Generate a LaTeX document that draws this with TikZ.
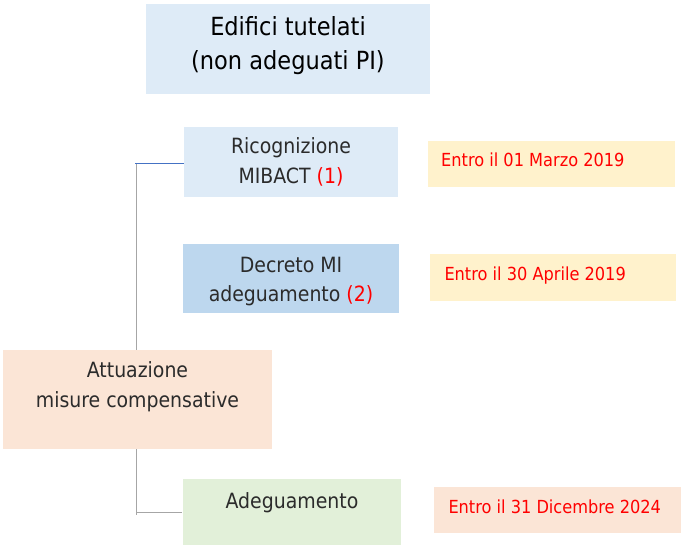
\documentclass[tikz,border=0pt]{standalone}
\usepackage{fontspec}
\setmainfont{DejaVu Sans Condensed}
\definecolor{bluelt}{HTML}{DEEBF7}
\definecolor{bluemd}{HTML}{BDD7EE}
\definecolor{peach}{HTML}{FBE5D6}
\definecolor{greenlt}{HTML}{E2F0D9}
\definecolor{yellowlt}{HTML}{FFF2CC}
\definecolor{txt}{HTML}{2B2B2B}
\definecolor{linegray}{HTML}{A6A6A6}
\definecolor{lineblue}{HTML}{4472C4}
\definecolor{redtxt}{HTML}{FF0000}
\tikzset{
  boxa/.style={inner sep=0pt, align=center, text=txt, font=\fontsize{21}{29.5}\selectfont},
  datebox/.style={inner sep=0pt, anchor=north west},
  datetxt/.style={inner sep=0pt, anchor=base west, text=redtxt, font=\fontsize{18}{21}\selectfont},
  conn/.style={draw=linegray, line width=1.2pt},
}
\begin{document}
\begin{tikzpicture}[x=1pt,y=-1pt]
\useasboundingbox[fill=white] (0,0) rectangle (685,551);
% title
\node[boxa, fill=bluelt, minimum width=284pt, minimum height=90pt] (title) at (288,49) {};
\node[boxa, text=black, font=\fontsize{25}{34}\selectfont] (titletxt) at (288,46)
  {Edifici tutelati\\(non adeguati PI)};
% main boxes
\node[boxa, fill=bluelt, minimum width=214pt, minimum height=70pt] (rico) at (291,162)
  {Ricognizione\\MIBACT \textcolor{redtxt}{(1)}};
\node[boxa, fill=bluemd, minimum width=216pt, minimum height=69pt] (decr) at (291,278.5) {};
\node[boxa] (decrtxt) at (291,281.5) {Decreto MI\\adeguamento \textcolor{redtxt}{(2)}};
\node[boxa, fill=peach, minimum width=269pt, minimum height=99pt] (attu) at (137.5,399.5) {};
\node[boxa] (attutxt) at (137.5,386.5) {Attuazione\\misure compensative};
\node[boxa, fill=greenlt, minimum width=218pt, minimum height=66pt] (adeg) at (292,512) {};
\node[boxa, anchor=base] (adegtxt) at (292,508) {Adeguamento};
% date boxes
\node[datebox, fill=yellowlt, minimum width=247pt, minimum height=46pt] (e1) at (428,141) {};
\node[datetxt] (e1t) at (441,166) {Entro il 01 Marzo 2019};
\node[datebox, fill=yellowlt, minimum width=246pt, minimum height=46.5pt] (e2) at (430,254) {};
\node[datetxt] (e2t) at (444.3,280) {Entro il 30 Aprile 2019};
\node[datebox, fill=peach, minimum width=246.5pt, minimum height=46.5pt] (e3) at (434,486.7) {};
\node[datetxt] (e3t) at (448.3,513.3) {Entro il 31 Dicembre 2024};
% connectors
\coordinate (jx) at (136.5,0);
\draw[conn] (attu.north -| jx) -- ([yshift=-1.5pt]rico.west -| jx);
\draw[draw=lineblue, line width=1.2pt] ([xshift=-1.5pt,yshift=-1.5pt]rico.west -| jx) -- ([yshift=-1.5pt]rico.west);
\draw[conn] (attu.south -| jx) -- ([yshift=-3pt]adeg.west -| jx);
\draw[conn] ([yshift=-0.5pt]adeg.west -| jx) -- ([xshift=-1pt,yshift=-0.5pt]adeg.west);
\end{tikzpicture}
\end{document}
